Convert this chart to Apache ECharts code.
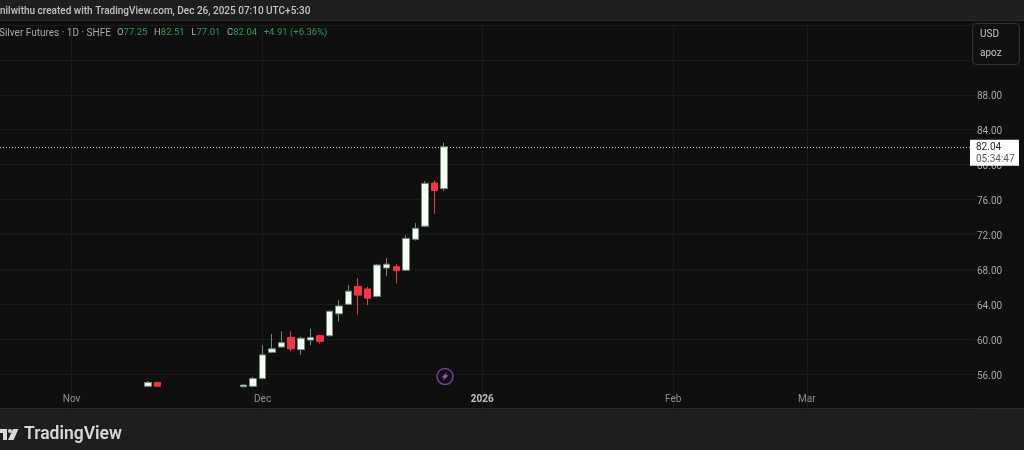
<!DOCTYPE html>
<html>
<head>
<meta charset="utf-8">
<style>
  html, body { margin: 0; padding: 0; background: #0f0f0f; }
  #grid { width: 1024px; height: 450px; }
</style>
<script src="https://cdn.jsdelivr.net/npm/echarts@6/dist/echarts.min.js"></script>
</head>
<body>
<div id="grid"></div>
<script>
// trading sessions shown on the time scale
const categories = [
  'Oct 23', 'Oct 24', 'Oct 27', 'Oct 28', 'Oct 29', 'Oct 30', 'Oct 31',
  'Nov 3', 'Nov 4', 'Nov 5', 'Nov 6', 'Nov 7', 'Nov 10', 'Nov 11', 'Nov 12', 'Nov 13', 'Nov 14',
  'Nov 17', 'Nov 18', 'Nov 19', 'Nov 20', 'Nov 21', 'Nov 24', 'Nov 25', 'Nov 26', 'Nov 27', 'Nov 28',
  'Dec 1', 'Dec 2', 'Dec 3', 'Dec 4', 'Dec 5', 'Dec 8', 'Dec 9', 'Dec 10', 'Dec 11', 'Dec 12',
  'Dec 15', 'Dec 16', 'Dec 17', 'Dec 18', 'Dec 19', 'Dec 22', 'Dec 23', 'Dec 24', 'Dec 25', 'Dec 26',
  'Dec 29', 'Dec 30', 'Dec 31',
  'Jan 5', 'Jan 6', 'Jan 7', 'Jan 8', 'Jan 9', 'Jan 12', 'Jan 13', 'Jan 14', 'Jan 15', 'Jan 16',
  'Jan 19', 'Jan 20', 'Jan 21', 'Jan 22', 'Jan 23', 'Jan 26', 'Jan 27', 'Jan 28', 'Jan 29', 'Jan 30',
  'Feb 2', 'Feb 3', 'Feb 4', 'Feb 5', 'Feb 6', 'Feb 9', 'Feb 10', 'Feb 11', 'Feb 12', 'Feb 13',
  'Feb 24', 'Feb 25', 'Feb 26', 'Feb 27',
  'Mar 2', 'Mar 3', 'Mar 4', 'Mar 5', 'Mar 6', 'Mar 9', 'Mar 10', 'Mar 11', 'Mar 12', 'Mar 13',
  'Mar 16', 'Mar 17', 'Mar 18', 'Mar 19', 'Mar 20', 'Mar 23', 'Mar 24', 'Mar 25',
];

const monthTicks = { 'Nov 3': 'Nov', 'Dec 1': 'Dec', 'Jan 5': '2026', 'Feb 2': 'Feb', 'Mar 2': 'Mar' };

const candleDays = [
  'Nov 13', 'Nov 14', 'Nov 27', 'Nov 28', 'Dec 1', 'Dec 2', 'Dec 3', 'Dec 4', 'Dec 5', 'Dec 8', 'Dec 9',
  'Dec 10', 'Dec 11', 'Dec 12', 'Dec 15', 'Dec 16', 'Dec 17', 'Dec 18', 'Dec 19', 'Dec 22', 'Dec 23',
  'Dec 24', 'Dec 25', 'Dec 26',
];
const opens = [
  54.6, 55.05, 54.55, 54.6, 55.5, 58.5, 59.1, 60.2, 58.8, 59.9, 60.4,
  60.4, 62.9, 64.0, 66.05, 65.75, 64.9, 68.15, 68.3, 67.9, 71.45,
  72.95, 77.9, 77.25,
];
const closes = [
  55.05, 54.6, 54.75, 55.5, 58.2, 58.9, 59.6, 58.9, 60.1, 60.2, 59.75,
  63.2, 63.8, 65.5, 65.05, 64.7, 68.5, 68.6, 67.85, 71.55, 72.7,
  77.85, 77.05, 82.04,
];
const lows = [
  54.5, 54.55, 54.5, 54.5, 55.4, 58.4, 59.0, 58.6, 58.2, 59.3, 59.5,
  60.3, 62.0, 63.9, 62.8, 63.9, 64.8, 67.2, 66.4, 67.8, 71.3,
  72.85, 74.35, 77.01,
];
const highs = [
  55.2, 55.1, 54.8, 55.7, 59.3, 60.6, 60.9, 60.9, 60.3, 61.2, 60.5,
  63.3, 64.5, 66.2, 67.0, 66.0, 68.6, 69.3, 68.6, 71.9, 73.3,
  78.1, 78.2, 82.51,
];

const lastPrice = 82.04;
const countdown = '05:34:47';
const hiddenTicks = [52, 92, 96];

const myChart = echarts.init(document.getElementById('grid'));

const candleData = categories.map((day) => {
  const i = candleDays.indexOf(day);
  return i < 0 ? '-' : [opens[i], closes[i], lows[i], highs[i]];
});

const fontName = 'Roboto';
const green = '#2f9a55';

const option = {
  backgroundColor: '#0f0f0f',
  animation: false,
  textStyle: { fontFamily: fontName },
  grid: { left: 0, right: 50, top: 25, bottom: 41 },
  xAxis: {
    type: 'category',
    data: categories,
    axisLine: { show: false },
    axisTick: { show: false, alignWithLabel: true },
    axisLabel: {
      inside: true,
      margin: 5,
      fontSize: 10,
      color: '#909090',
      interval: (index, value) => value in monthTicks,
      formatter: (value) => {
        const label = monthTicks[value];
        return label === '2026' ? '{year|2026}' : label;
      },
      rich: { year: { fontSize: 10, fontWeight: 'bold', color: '#c0c0c0' } },
    },
    splitLine: {
      show: true,
      alignWithLabel: true,
      interval: (index, value) => value in monthTicks,
      lineStyle: { color: '#1b1b1b', width: 1 },
    },
  },
  yAxis: {
    type: 'value',
    position: 'right',
    min: 52,
    max: 96,
    interval: 4,
    axisLine: { show: false },
    axisTick: { show: false },
    axisLabel: {
      margin: 3,
      verticalAlign: 'top',
      lineHeight: 4,
      fontSize: 10,
      color: '#a8a8a8',
      formatter: (value) => (hiddenTicks.includes(value) ? '' : value.toFixed(2)),
    },
    splitLine: { lineStyle: { color: '#1b1b1b', width: 1 } },
  },
  series: [
    {
      type: 'candlestick',
      data: candleData,
      barWidth: 7,
      itemStyle: {
        color: '#f8faf6',
        color0: '#f23645',
        borderColor: '#6e8f78',
        borderColor0: '#f23645',
        borderWidth: 1,
      },
      markLine: {
        silent: true,
        symbol: 'none',
        animation: false,
        lineStyle: { color: '#c8c8c8', type: [1, 2], width: 1 },
        data: [{ yAxis: lastPrice }],
        label: {
          position: 'end',
          distance: 0,
          offset: [-4, 6],
          backgroundColor: '#ffffff',
          padding: [2, 1, 0, 6],
          formatter: `{p|${lastPrice.toFixed(2)}}\n{t|${countdown}}`,
          rich: {
            p: { fontSize: 10, color: '#222222', lineHeight: 12, width: 42, align: 'left' },
            t: { fontSize: 10, color: '#5a5a5a', lineHeight: 12, width: 42, align: 'left' },
          },
        },
      },
    },
  ],
  graphic: [
    // top bar, footer
    { type: 'rect', z: 0, shape: { x: 0, y: 0, width: 1024, height: 20 }, style: { fill: '#1f1f1f' } },
    { type: 'rect', z: 0, shape: { x: 0, y: 20, width: 1024, height: 1 }, style: { fill: '#2b2b2b' } },
    { type: 'rect', z: 0, shape: { x: 0, y: 408, width: 1024, height: 42 }, style: { fill: '#1e1e1e' } },
    { type: 'rect', z: 0, shape: { x: 0, y: 408, width: 1024, height: 1 }, style: { fill: '#2b2b2b' } },
    {
      type: 'text',
      z: 10,
      style: {
        x: 0,
        y: 11,
        verticalAlign: 'middle',
        text: 'nilwithu created with TradingView.com, Dec 26, 2025 07:10 UTC+5:30',
        font: `500 10px ${fontName}`,
        fill: '#c4c4c4',
      },
    },
    {
      type: 'text',
      z: 10,
      style: {
        x: -1,
        y: 33,
        verticalAlign: 'middle',
        text: 'Silver Futures · 1D · SHFE',
        font: `10px ${fontName}`,
        fill: '#a8a8a8',
      },
    },
    {
      type: 'text',
      z: 10,
      style: {
        x: 117,
        y: 33,
        verticalAlign: 'middle',
        text: '{k|O}{v|77.25}  {k|H}{v|82.51}  {k|L}{v|77.01}  {k|C}{v|82.04}  {v|+4.91 (+6.36%)}',
        rich: {
          k: { fontFamily: fontName, fontSize: 9.5, fill: '#a8a8a8' },
          v: { fontFamily: fontName, fontSize: 9.5, fill: green },
        },
      },
    },
    // currency box
    {
      type: 'rect',
      z: 10,
      shape: { x: 972.5, y: 23.5, width: 47, height: 41, r: 4 },
      style: { fill: '#111111', stroke: '#333333', lineWidth: 1 },
    },
    { type: 'text', z: 11, style: { x: 980, y: 34, verticalAlign: 'middle', text: 'USD', font: `10px ${fontName}`, fill: '#c4c4c4' } },
    { type: 'text', z: 11, style: { x: 980, y: 53, verticalAlign: 'middle', text: 'apoz', font: `10px ${fontName}`, fill: '#c4c4c4' } },
    // lightning marker
    {
      type: 'circle',
      z: 10,
      shape: { cx: 445, cy: 376.5, r: 8 },
      style: { fill: 'transparent', stroke: '#7f3c98', lineWidth: 1.5 },
    },
    {
      type: 'polygon',
      z: 10,
      shape: { points: [[447.5, 371.5], [441.5, 377.8], [444.5, 377.8], [442.5, 381.5], [448.5, 375.2], [445.5, 375.2]] },
      style: { fill: '#a050c0' },
    },
    // footer logo
    {
      type: 'polygon',
      z: 10,
      shape: { points: [[0, 429], [7, 429], [7, 440], [3, 440], [3, 433], [0, 433]] },
      style: { fill: '#d8d8d8' },
    },
    { type: 'circle', z: 10, shape: { cx: 10, cy: 431, r: 2 }, style: { fill: '#d8d8d8' } },
    {
      type: 'polygon',
      z: 10,
      shape: { points: [[13, 429], [18.5, 429], [13.5, 440], [8, 440]] },
      style: { fill: '#d8d8d8' },
    },
    {
      type: 'text',
      z: 10,
      style: {
        x: 24,
        y: 434.5,
        verticalAlign: 'middle',
        text: 'TradingView',
        font: `600 17.5px ${fontName}`,
        fill: '#d8d8d8',
      },
    },
  ],
};

myChart.setOption(option);
</script>
</body>
</html>
